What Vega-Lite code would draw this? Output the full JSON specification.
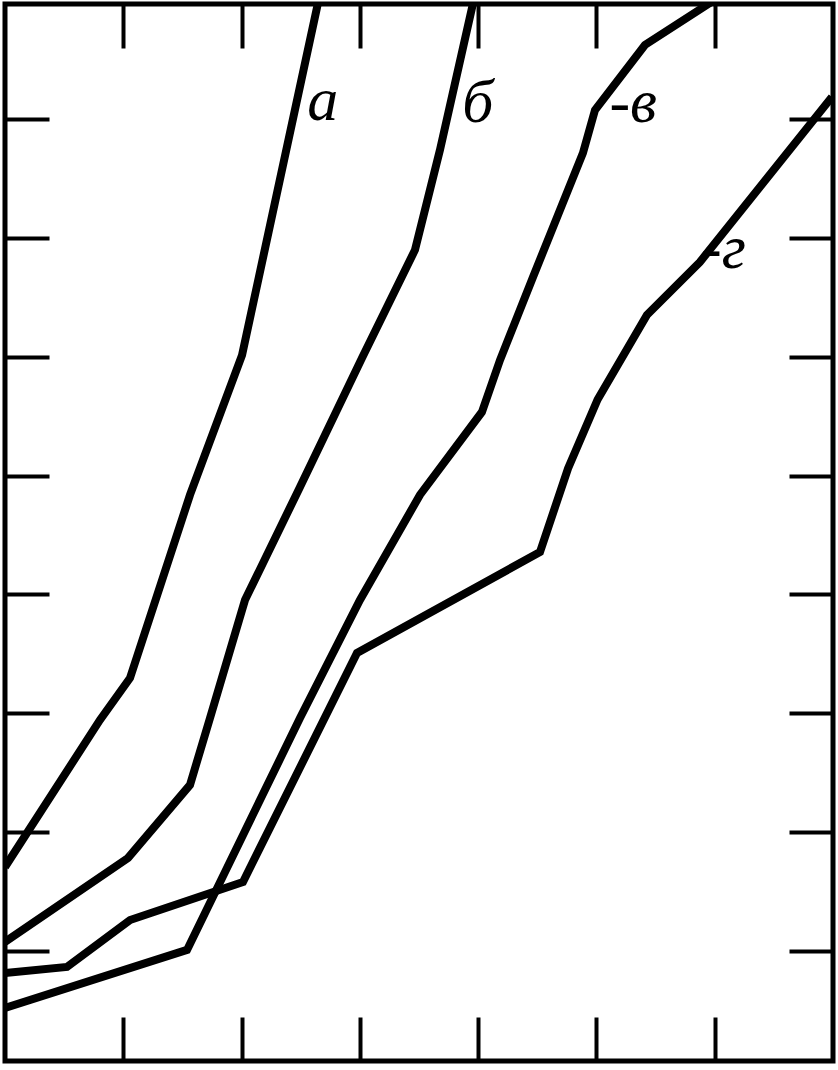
{
  "$schema": "https://vega.github.io/schema/vega-lite/v6.json",
  "width": 828,
  "height": 1057,
  "autosize": {"type": "none"},
  "padding": {"left": 5, "top": 4, "right": 5, "bottom": 9},
  "background": "white",
  "config": {
    "view": {"stroke": "black", "strokeWidth": 5},
    "axis": {"domain": false, "labels": false, "grid": false, "ticks": true, "tickSize": -44, "tickWidth": 4, "tickColor": "black", "tickCap": "butt"}
  },
  "datasets": {
    "curves": [
      {"curve": "а", "x": 0, "y": 1.707},
      {"curve": "а", "x": 0.803, "y": 2.944},
      {"curve": "а", "x": 1.057, "y": 3.297},
      {"curve": "а", "x": 1.564, "y": 4.837},
      {"curve": "а", "x": 2.004, "y": 6.014},
      {"curve": "а", "x": 2.646, "y": 8.976},
      {"curve": "б", "x": 0, "y": 1.076},
      {"curve": "б", "x": 1.040, "y": 1.783},
      {"curve": "б", "x": 1.564, "y": 2.397},
      {"curve": "б", "x": 1.733, "y": 2.960},
      {"curve": "б", "x": 2.029, "y": 3.953},
      {"curve": "б", "x": 2.494, "y": 4.904},
      {"curve": "б", "x": 3.018, "y": 5.989},
      {"curve": "б", "x": 3.466, "y": 6.898},
      {"curve": "б", "x": 3.677, "y": 7.739},
      {"curve": "б", "x": 3.956, "y": 8.970},
      {"curve": "в", "x": 0, "y": 0.521},
      {"curve": "в", "x": 1.539, "y": 1.009},
      {"curve": "в", "x": 2.494, "y": 2.960},
      {"curve": "в", "x": 3.001, "y": 3.953},
      {"curve": "в", "x": 3.508, "y": 4.837},
      {"curve": "в", "x": 4.032, "y": 5.535},
      {"curve": "в", "x": 4.185, "y": 5.972},
      {"curve": "в", "x": 4.464, "y": 6.671},
      {"curve": "в", "x": 4.886, "y": 7.714},
      {"curve": "в", "x": 4.988, "y": 8.076},
      {"curve": "в", "x": 5.410, "y": 8.623},
      {"curve": "в", "x": 5.960, "y": 8.976},
      {"curve": "г", "x": 0, "y": 0.815},
      {"curve": "г", "x": 0.524, "y": 0.866},
      {"curve": "г", "x": 1.057, "y": 1.261},
      {"curve": "г", "x": 2.012, "y": 1.581},
      {"curve": "г", "x": 2.976, "y": 3.507},
      {"curve": "г", "x": 4.523, "y": 4.357},
      {"curve": "г", "x": 4.760, "y": 5.060},
      {"curve": "г", "x": 5.010, "y": 5.640},
      {"curve": "г", "x": 5.427, "y": 6.351},
      {"curve": "г", "x": 5.875, "y": 6.797},
      {"curve": "г", "x": 6.991, "y": 8.185}
    ],
    "labels": [
      {"label": "а", "x": 2.555, "y": 7.991},
      {"label": "б", "x": 3.865, "y": 7.975},
      {"label": "-в", "x": 5.110, "y": 7.975},
      {"label": "-г", "x": 5.885, "y": 6.746}
    ]
  },
  "layer": [
    {
      "data": {"name": "curves"},
      "mark": {"type": "line", "color": "black", "strokeWidth": 8, "clip": true},
      "encoding": {
        "x": {"field": "x", "type": "quantitative", "title": null,
              "scale": {"domain": [0, 7], "nice": false, "zero": false},
              "axis": {"orient": "bottom", "values": [1, 2, 3, 4, 5, 6]}},
        "y": {"field": "y", "type": "quantitative", "title": null,
              "scale": {"domain": [0.0745, 8.9675], "nice": false, "zero": false},
              "axis": {"orient": "left", "values": [1, 2, 3, 4, 5, 6, 7, 8]}},
        "detail": {"field": "curve"}
      }
    },
    {
      "data": {"name": "labels"},
      "mark": {"type": "text", "font": "Liberation Serif", "fontStyle": "italic", "fontSize": 62, "align": "left", "baseline": "alphabetic", "color": "black"},
      "encoding": {
        "x": {"field": "x", "type": "quantitative", "title": null,
              "scale": {"domain": [0, 7], "nice": false, "zero": false},
              "axis": {"orient": "top", "values": [1, 2, 3, 4, 5, 6]}},
        "y": {"field": "y", "type": "quantitative", "title": null,
              "scale": {"domain": [0.0745, 8.9675], "nice": false, "zero": false},
              "axis": {"orient": "right", "values": [1, 2, 3, 4, 5, 6, 7, 8]}},
        "text": {"field": "label"}
      }
    }
  ],
  "resolve": {"axis": {"x": "independent", "y": "independent"}}
}
